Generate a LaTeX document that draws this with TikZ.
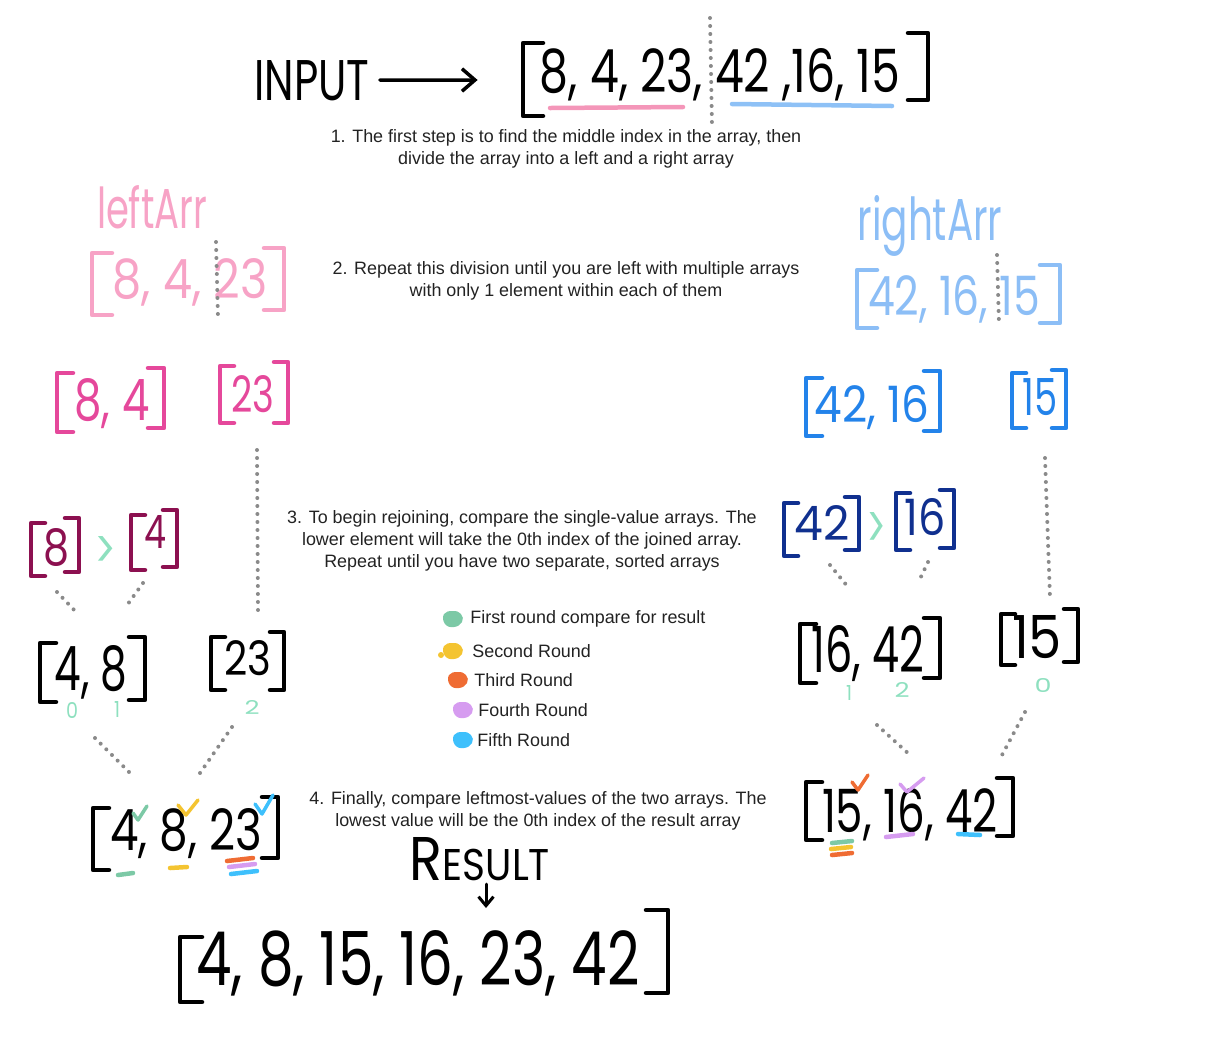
\documentclass[tikz,border=0pt]{standalone}
\usepackage{fontspec}
\usepackage{graphicx}
\setmainfont{Liberation Sans}
\newfontfamily\hand{Poppins}
\usetikzlibrary{arrows.meta}

\definecolor{lpink}{HTML}{F7A3C6}
\definecolor{ulpink}{HTML}{F496B9}
\definecolor{lblue}{HTML}{8CBEF6}
\definecolor{ulblue}{HTML}{8EC1F6}
\definecolor{hotpink}{HTML}{E5489B}
\definecolor{mblue}{HTML}{2383EA}
\definecolor{dmag}{HTML}{8C1050}
\definecolor{deepnavy}{HTML}{10308F}
\definecolor{mint}{HTML}{8EE0BF}
\definecolor{lgreen}{HTML}{7CC9A6}
\definecolor{lyellow}{HTML}{F4C431}
\definecolor{lorange}{HTML}{EF6C33}
\definecolor{lpurple}{HTML}{D69CF0}
\definecolor{lcyan}{HTML}{3EC0FC}
\definecolor{dotgrey}{HTML}{8A8A8A}
\definecolor{notegrey}{HTML}{222222}

\newdimen\pxu \pxu=0.02cm
% hand written text squeezed into a box of w x h pixels (depth dropped)
\newcommand{\hw}[3]{\raisebox{0pt}[\height][0pt]{\resizebox{#1\pxu}{#2\pxu}{\hand #3}}}
% colour, left x, left top, left bottom, right x, right top, right bottom, serif
\newcommand{\brackets}[8]{%
  \draw[marker, #1] ({#2+#8},#3) -- (#2,#3) -- (#2,#4) -- ({#2+#8},#4);
  \draw[marker, #1] ({#5-#8},#6) -- (#5,#6) -- (#5,#7) -- ({#5-#8},#7);}

\tikzset{
  marker/.style={line width=0.09cm, line cap=round, line join=round},
  tick/.style={line width=0.07cm, line cap=round, line join=round},
  dots/.style={draw=dotgrey, line width=0.08cm, line cap=round, dash pattern=on 0pt off 0.16cm},
  num/.style={inner sep=0pt, anchor=base},
  note/.style={align=center, inner sep=0pt, text=notegrey, font=\fontsize{10.2}{12.5}\selectfont},
  legend/.style={anchor=west, inner sep=0pt, text=notegrey, font=\fontsize{10.2}{12.5}\selectfont},
}

\begin{document}
\begin{tikzpicture}[x=0.02cm, y=-0.02cm]
\useasboundingbox (0,0) rectangle (1226,1039);

% input array
\node[num] (input) at (312,100) {\hw{115}{40}{INPUT}};
\node[num] (top) at (720,92) {\hw{360}{44}{8, 4, 23, 42 ,16, 15}};
\draw[marker, line width=0.07cm, -{Straight Barb[length=0.26cm, width=0.45cm]}]
  ([shift={(10,0)}]input.east) -- ([shift={(-62,-12)}]top.base west);
\brackets{black}{523}{43}{116}{928}{33}{100}{20}
\draw[dots] (710,18) -- (712,126);
\draw[marker, ulpink] (550,108) -- (683,107);
\draw[marker, ulblue] (732,104) -- (892,106);
\node[note] (step1) at (566,149) {1. The first step is to find the middle index in the array, then\\divide the array into a left and a right array};

% left and right halves
\node[num, text=lpink] (leftlbl) at (152,228) {\hw{110}{43}{leftArr}};
\node[num, text=lpink] (leftarr) at (190,298) {\hw{155}{40}{8, 4, 23}};
\brackets{lpink}{92}{253}{315}{284}{248}{310}{20}
\draw[dots] (216,242) -- (218,318);

\node[num, text=lblue] (rightlbl) at (930,240) {\hw{145}{45}{rightArr}};
\node[num, text=lblue] (rightarr) at (954,315) {\hw{172}{40}{42, 16, 15}};
\brackets{lblue}{857}{270}{328}{1060}{265}{323}{20}
\draw[dots] (997,255) -- (999,325);

\node[note] (step2) at (566,281) {2. Repeat this division until you are left with multiple arrays\\with only 1 element within each of them};

% second split
\node[num, text=hotpink] (a84) at (112,420) {\hw{75}{42}{8, 4}};
\brackets{hotpink}{57}{373}{432}{164}{368}{428}{16}
\node[num, text=hotpink] (a23p) at (253,412) {\hw{43}{37}{23}};
\brackets{hotpink}{220}{366}{423}{288}{362}{423}{14}

\node[num, text=mblue] (a4216) at (872,422) {\hw{115}{37}{42, 16}};
\brackets{mblue}{806}{378}{436}{940}{371}{431}{16}
\node[num, text=mblue] (a15b) at (1040,415) {\hw{35}{37}{15}};
\brackets{mblue}{1012}{373}{428}{1066}{370}{428}{14}

% single values
\node[num, text=dmag] (a8) at (57,565) {\hw{26}{37}{8}};
\brackets{dmag}{31}{523}{576}{79}{518}{572}{14}
\node[num, text=mint] (gt1) at (106,568) {\hw{22}{32}{>}};
\node[num, text=dmag] (a4) at (155,548) {\hw{22}{33}{4}};
\brackets{dmag}{131}{515}{570}{177}{510}{567}{14}

\node[num, text=deepnavy] (a42) at (822,540) {\hw{55}{35}{42}};
\brackets{deepnavy}{784}{503}{556}{859}{497}{550}{14}
\node[num, text=mint] (gt2) at (876,548) {\hw{20}{36}{>}};
\node[num, text=deepnavy] (a16) at (925,535) {\hw{41}{37}{16}};
\brackets{deepnavy}{896}{493}{550}{954}{490}{548}{14}

\node[note] (step3) at (522,541) {3. To begin rejoining, compare the single-value arrays. The\\lower element will take the 0th index of the joined array.\\Repeat until you have two separate, sorted arrays};

% sorted pairs
\node[num] (a48) at (91,690) {\hw{73}{45}{4, 8}};
\brackets{black}{40}{643}{702}{145}{637}{700}{16}
\node[num] (a23) at (248,675) {\hw{47}{35}{23}};
\brackets{black}{211}{637}{690}{284}{632}{690}{14}
\node[num, text=mint] (i0) at (72,718) {\hw{12}{16}{0}};
\node[num, text=mint] (i1) at (117,717) {\hw{6}{16}{1}};
\node[num, text=mint] (i2) at (252,714) {\hw{15}{14}{2}};

\node[num] (a1642) at (868,672) {\hw{113}{47}{16, 42}};
\brackets{black}{800}{624}{683}{940}{618}{678}{16}
\node[num] (a15) at (1037,658) {\hw{50}{43}{15}};
\brackets{black}{1001}{614}{665}{1078}{609}{662}{14}
\node[num, text=mint] (i3) at (849,700) {\hw{6}{15}{1}};
\node[num, text=mint] (i4) at (902,697) {\hw{15}{15}{2}};
\node[num, text=mint] (i5) at (1043,692) {\hw{17}{14}{0}};

% dotted links
\draw[dots] ([shift={(4,38)}]a23p.base) -- ([shift={(10,-63)}]a23.base);
\draw[dots] ([shift={(5,43)}]a15b.base) -- ([shift={(13,-60)}]a15.base);
\draw[dots] ([shift={(0,27)}]a8.base) -- ([shift={(-14,-77)}]a48.base);
\draw[dots] ([shift={(-12,35)}]a4.base) -- ([shift={(34,-82)}]a48.base);
\draw[dots] ([shift={(8,25)}]a42.base) -- ([shift={(-20,-85)}]a1642.base);
\draw[dots] ([shift={(3,27)}]a16.base) -- ([shift={(50,-89)}]a1642.base);

% legend
\foreach \col/\bx/\tx/\y/\txt [count=\i] in {
    lgreen/453/470/619/First round compare for result,
    lyellow/453/472/651/Second Round,
    lorange/458/474/680/Third Round,
    lpurple/463/478/710/Fourth Round,
    lcyan/463/477/740/Fifth Round}{
  \fill[\col, shift={(\bx,\y)}] plot[smooth cycle, tension=0.8]
    coordinates {(-9,-5) (0,-8) (8,-5) (9,3) (1,8) (-8,5)};
  \node[legend] (leg\i) at (\tx,\y) {\txt};
}
\fill[lyellow] (441,655) circle (3);

% merged halves
\node[num] (a4823) at (186,850) {\hw{152}{42}{4, 8, 23}};
\brackets{black}{93}{808}{870}{278}{797}{858}{16}
\draw[tick, lgreen] (133,813) -- (138,820) -- (147,806);
\draw[tick, lyellow] (178,805) -- (186,815) -- (198,800);
\draw[tick, lcyan] (255,804) -- (262,814) -- (273,795);
\draw[marker, lgreen] (118,875) -- (133,873);
\draw[marker, lyellow] (170,868) -- (187,867);
\draw[marker, lorange] (227,861) -- (253,858);
\draw[marker, lpurple] (229,867) -- (255,864);
\draw[marker, lcyan] (231,874) -- (257,871);

\node[num] (a151642) at (910,832) {\hw{176}{44}{15, 16, 42}};
\brackets{black}{806}{782}{840}{1013}{778}{836}{16}
\draw[tick, lorange] (852,782) -- (858,790) -- (868,775);
\draw[tick, lpurple] (900,784) -- (907,792) -- (924,778);
\draw[marker, lgreen] (832,843) -- (852,841);
\draw[marker, lyellow] (831,849) -- (851,847);
\draw[marker, lorange] (832,855) -- (852,853);
\draw[marker, lpurple] (886,837) -- (913,834);
\draw[marker, lcyan] (958,834) -- (980,835);

\draw[dots] ([shift={(4,48)}]a48.base) -- ([shift={(-56,-77)}]a4823.base);
\draw[dots] ([shift={(-16,52)}]a23.base) -- ([shift={(14,-77)}]a4823.base);
\draw[dots] ([shift={(9,53)}]a1642.base) -- ([shift={(0,-77)}]a151642.base);
\draw[dots] ([shift={(-12,54)}]a15.base) -- ([shift={(92,-77)}]a151642.base);

\node[note] (step4) at (538,811) {4. Finally, compare leftmost-values of the two arrays. The\\lowest value will be the 0th index of the result array};

% result
\node[num] (result) at (480,880) {\hw{140}{43}{R\scalebox{0.72}{ESULT}}};
\node[num] (final) at (418,985) {\hw{443}{55}{4, 8, 15, 16, 23, 42}};
\brackets{black}{180}{937}{1002}{668}{910}{993}{22}
\draw[marker, line width=0.06cm, -{Straight Barb[length=0.18cm, width=0.3cm]}]
  ([shift={(6,4)}]result.base) -- ([shift={(68,-77)}]final.base);
\end{tikzpicture}
\end{document}
